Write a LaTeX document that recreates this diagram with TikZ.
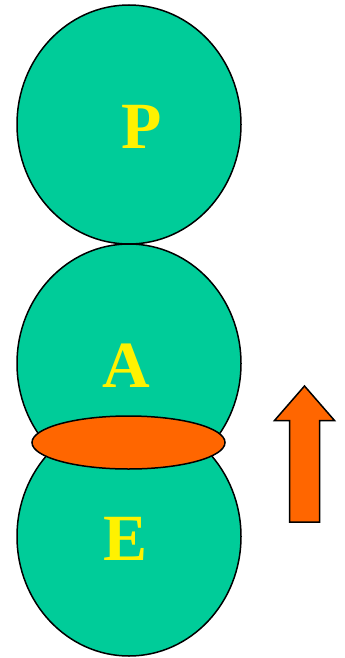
\documentclass[tikz,border=0pt]{standalone}
\usepackage{fontspec}
\setmainfont{Liberation Serif}
\usetikzlibrary{shapes.geometric}
\definecolor{cellgreen}{HTML}{00CC99}
\definecolor{ringorange}{HTML}{FF6600}

\begin{document}
\begin{tikzpicture}[x=1pt, y=-1pt,
  cell/.style={ellipse, draw, fill=cellgreen, line width=1.5pt,
    inner sep=0pt, outer sep=0pt, minimum width=224pt, minimum height=239pt},
  ring/.style={ellipse, draw, fill=ringorange, line width=1.5pt,
    inner sep=0pt, outer sep=0pt, minimum width=193pt, minimum height=53pt},
  lbl/.style={text=yellow, inner sep=0pt,
    font=\fontsize{66}{66}\selectfont\bfseries},
]
\useasboundingbox (0,0) rectangle (345,658);
\node[cell] (p) at (129,124.5) {};
\node[cell] (a) at (129,363.5) {};
\node[cell] (e) at (129,536.5) {};
\node[ring] (ring) at (128.5,442.5) {};
\node[lbl] (pl) at (142,127) {P};
\node[lbl] (al) at (126,366) {A};
\node[lbl] (el) at (125.5,539) {E};
% upward arrow
\draw[fill=ringorange, line width=1.5pt]
  (289.5,522) -- (289.5,420.5) -- (274.5,420.5) -- (304.5,386)
  -- (334.5,420.5) -- (319.5,420.5) -- (319.5,522) -- cycle;
\end{tikzpicture}
\end{document}
